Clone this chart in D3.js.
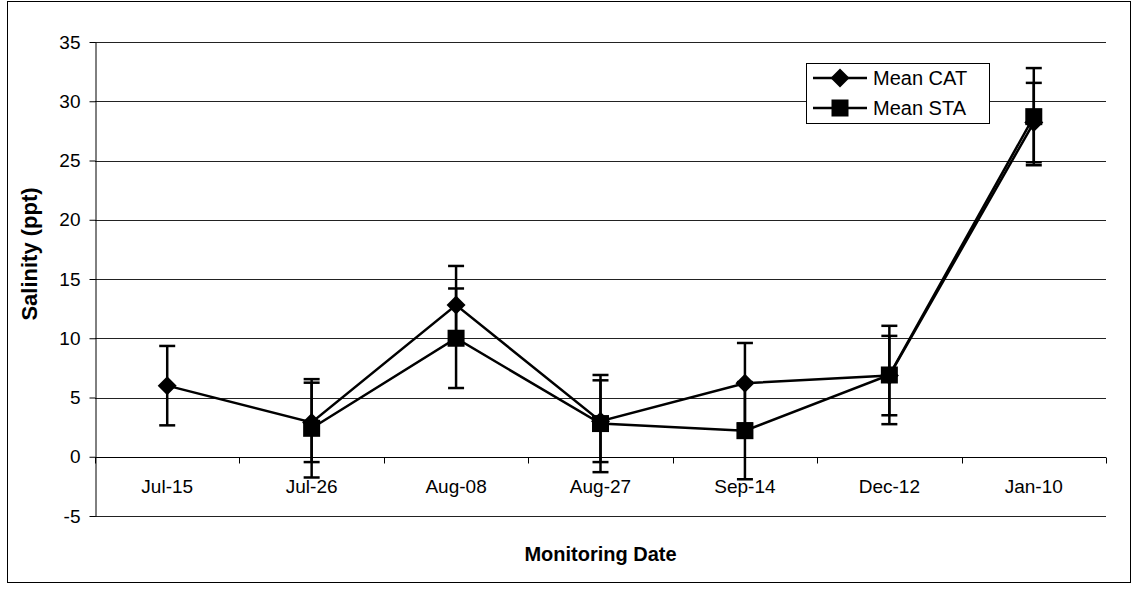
<!DOCTYPE html>
<html>
<head>
<meta charset="utf-8">
<script src="https://d3js.org/d3.v7.min.js"></script>
<style>
  body { margin: 0; background: #fff; }
  svg text { font-family: "Liberation Sans", Arial, sans-serif; fill: #000; }
</style>
</head>
<body>
<div id="chart"></div>
<script>
// monitoring dates and values
const dates = ["Jul-15", "Jul-26", "Aug-08", "Aug-27", "Sep-14", "Dec-12", "Jan-10"];
const meanCAT = [6.0, 2.9, 12.8, 3.0, 6.2, 6.85, 28.2];
const errCAT = [3.35, 3.35, 3.3, 3.45, 3.4, 3.35, 3.35];
const meanSTA = [null, 2.4, 10.0, 2.8, 2.2, 6.9, 28.7];
const errSTA = [null, 4.15, 4.2, 4.1, 4.1, 4.15, 4.1];
const yTicks = [-5, 0, 5, 10, 15, 20, 25, 30, 35];

const W = 1138, H = 596;
const plotL = 95, plotR = 1106, plotT = 42, plotB = 516;

const svg = d3.select("#chart").append("svg")
  .attr("width", W).attr("height", H);

// outer chart border
svg.append("rect")
  .attr("x", 7.5).attr("y", 1.5)
  .attr("width", 1123).attr("height", 581)
  .attr("fill", "#fff").attr("stroke", "#000").attr("stroke-width", 1);

const x = d3.scaleBand().domain(dates).range([plotL, plotR]);
const y = d3.scaleLinear().domain([-5, 35]).range([plotB, plotT]);
const cx = d => x(d) + x.bandwidth() / 2;

// gridlines
svg.append("g").selectAll("line")
  .data(yTicks)
  .join("line")
  .attr("x1", plotL).attr("x2", plotR)
  .attr("y1", d => Math.round(y(d)) + 0.5)
  .attr("y2", d => Math.round(y(d)) + 0.5)
  .attr("stroke", "#222").attr("stroke-width", 1);

// y axis (plain hyphen for negatives, like the original)
const yAxis = svg.append("g")
  .attr("transform", `translate(${plotL + 0.5},0)`)
  .call(d3.axisLeft(y).tickValues(yTicks).tickFormat(d => String(d))
    .tickSize(6).tickSizeOuter(0).tickPadding(9));
yAxis.selectAll("text").style("font-size", "19px");
yAxis.select(".domain").attr("stroke", "#000");

// x axis at zero, ticks between categories
const y0 = Math.round(y(0)) + 0.5;
const xAxis = svg.append("g")
  .attr("transform", `translate(0,${y0})`)
  .call(d3.axisBottom(x).tickSize(0).tickPadding(22));
xAxis.select(".domain").remove();
xAxis.selectAll("text").style("font-size", "19px");
svg.append("line")
  .attr("x1", plotL).attr("x2", plotR)
  .attr("y1", y0).attr("y2", y0)
  .attr("stroke", "#000");
svg.append("g").selectAll("line")
  .data(d3.range(dates.length + 1))
  .join("line")
  .attr("x1", i => Math.round(plotL + i * x.step()) + 0.5)
  .attr("x2", i => Math.round(plotL + i * x.step()) + 0.5)
  .attr("y1", y0).attr("y2", y0 + 6)
  .attr("stroke", "#000");

// axis titles
svg.append("text")
  .attr("transform", `translate(37,${(plotT + plotB) / 2 - 25}) rotate(-90)`)
  .attr("text-anchor", "middle")
  .style("font-size", "22px").style("font-weight", "bold")
  .text("Salinity (ppt)");
svg.append("text")
  .attr("x", (plotL + plotR) / 2).attr("y", 561)
  .attr("text-anchor", "middle")
  .style("font-size", "20px").style("font-weight", "bold")
  .text("Monitoring Date");

// series
const series = [
  { name: "Mean CAT", vals: meanCAT, err: errCAT, shape: "diamond" },
  { name: "Mean STA", vals: meanSTA, err: errSTA, shape: "square" }
];

function drawMarker(g, shape, px, py) {
  if (shape === "diamond") {
    g.append("path")
      .attr("d", `M${px},${py - 9.5}L${px + 9.5},${py}L${px},${py + 9.5}L${px - 9.5},${py}Z`)
      .attr("fill", "#000");
  } else {
    g.append("rect")
      .attr("x", px - 8.5).attr("y", py - 8.5)
      .attr("width", 17).attr("height", 17)
      .attr("fill", "#000");
  }
}

series.forEach(s => {
  const pts = dates.map((d, i) => ({ d, v: s.vals[i], e: s.err[i] })).filter(p => p.v != null);
  const g = svg.append("g");

  // error bars
  pts.forEach(p => {
    const px = cx(p.d);
    g.append("line")
      .attr("x1", px).attr("x2", px)
      .attr("y1", y(p.v + p.e)).attr("y2", y(p.v - p.e))
      .attr("stroke", "#000").attr("stroke-width", 2.5);
    [p.v + p.e, p.v - p.e].forEach(c => {
      g.append("line")
        .attr("x1", px - 8).attr("x2", px + 8)
        .attr("y1", y(c)).attr("y2", y(c))
        .attr("stroke", "#000").attr("stroke-width", 2.5);
    });
  });

  g.append("path")
    .datum(pts)
    .attr("d", d3.line().x(p => cx(p.d)).y(p => y(p.v)))
    .attr("fill", "none").attr("stroke", "#000").attr("stroke-width", 2.5);

  pts.forEach(p => drawMarker(g, s.shape, cx(p.d), y(p.v)));
});

// legend
const lg = svg.append("g");
lg.append("rect")
  .attr("x", 806.5).attr("y", 63.5)
  .attr("width", 183).attr("height", 60)
  .attr("fill", "#fff").attr("stroke", "#000");
series.forEach((s, i) => {
  const ly = 78 + i * 30;
  lg.append("line")
    .attr("x1", 813).attr("x2", 867)
    .attr("y1", ly).attr("y2", ly)
    .attr("stroke", "#000").attr("stroke-width", 2.5);
  drawMarker(lg, s.shape, 840, ly);
  lg.append("text")
    .attr("x", 873).attr("y", ly + 7)
    .style("font-size", "20px")
    .text(s.name);
});
</script>
</body>
</html>
